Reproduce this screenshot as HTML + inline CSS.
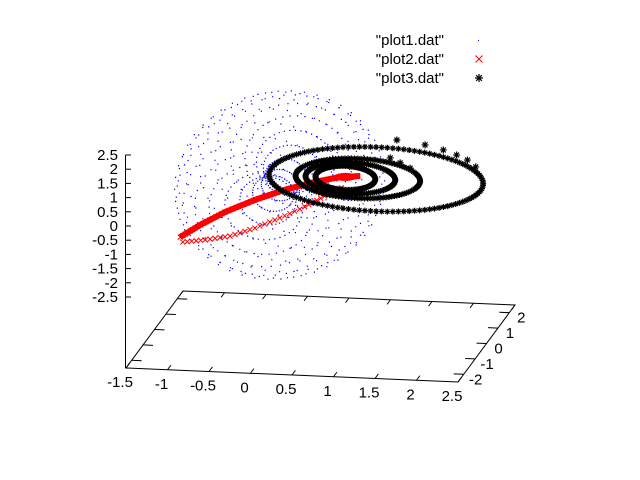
<!DOCTYPE html>
<html><head><meta charset="utf-8"><style>
html,body{margin:0;padding:0;background:#fff;}
svg{display:block;font-family:"Liberation Sans",sans-serif;}
</style></head><body>
<svg id="c" width="640" height="480" viewBox="0 0 640 480">
<g id="axes"></g>
<g id="blue"></g>
<g id="red"></g>
<g id="black"></g>
<g id="legend"></g>
</svg>
<script>
// ---- data ----
const zTicks=[-2.5,-2,-1.5,-1,-0.5,0,0.5,1,1.5,2,2.5];
const xTicks=[-1.5,-1,-0.5,0,0.5,1,1.5,2,2.5];
const yTicks=[-2,-1,0,1,2];
const legendLabels=['"plot1.dat"','"plot2.dat"','"plot3.dat"'];
// plot1 torus parameters: major radius, minor radius, vertical stretch, z centre
const torusR=[0.72], torusr=[0.5], torusKz=[2.5], torusZ0=[0.3];
// plot2 branches
const redUpperX=[-1.19,-0.95,-0.65,-0.29,0.07,0.43,0.73,0.98];
const redUpperZ=[-1.70,-1.24,-0.75,-0.28,0.12,0.44,0.65,0.72];
const redLowerX=[-1.16,-0.89,-0.59,-0.29,0.01,0.31,0.55,0.80];
const redLowerZ=[-1.87,-1.76,-1.59,-1.27,-0.88,-0.45,-0.04,0.35];
// plot3 spiral rings: centre x, centre z, radius x, radius z
const ringCX=[1.17,0.95,0.86,0.80];
const ringCZ=[0.63,0.63,0.63,0.63];
const ringRX=[1.29,0.75,0.54,0.36];
const ringRZ=[1.13,0.70,0.55,0.42];
const starX=[1.42,1.76,1.98,2.14,2.27,2.37,1.34,1.46,1.58];
const starZ=[2.04,1.91,1.76,1.60,1.44,1.21,1.40,1.24,1.07];
// ---- projection ----
const NS='http://www.w3.org/2000/svg';
function sx(x,y,z){return 279+83*x+11.4*y;}
function sy(x,y,z){return 193+3.5*x-15.4*y-28.4*z;}
function B(x,y){return [126+(x+1.5)*83+(y+2.5)*11.4, 368+(x+1.5)*3.5-(y+2.5)*15.4];}
function mk(tag,attrs,parent){const e=document.createElementNS(NS,tag);for(const k in attrs)e.setAttribute(k,attrs[k]);parent.appendChild(e);return e;}
const axes=document.getElementById('axes');
const c1=B(-1.5,-2.5),c2=B(2.5,-2.5),c3=B(2.5,2.5),c4=B(-1.5,2.5);
const base=mk('polygon',{points:[c1,c2,c3,c4].map(p=>p.join(',')).join(' '),fill:'none',stroke:'#000','stroke-width':1},axes);


const zl=mk('line',{x1:125.5,y1:155,x2:125.5,y2:368,stroke:'#000'},axes);


zTicks.forEach(v=>{
 const y=226-v*28.4;
 mk('line',{x1:125.5,y1:y,x2:131,y2:y,stroke:'#000'},axes);
 const t=mk('text',{x:118,y:y+5,'text-anchor':'end','font-size':15},axes);t.textContent=v;
 
 
});
xTicks.forEach(v=>{
 const a=B(v,-2.5),b=B(v,-2.2),c=B(v,2.5),d=B(v,2.2);
 mk('line',{x1:a[0],y1:a[1],x2:b[0],y2:b[1],stroke:'#000'},axes);
 mk('line',{x1:c[0],y1:c[1],x2:d[0],y2:d[1],stroke:'#000'},axes);
 const t=mk('text',{x:a[0]-6,y:a[1]+19,'text-anchor':'middle','font-size':15},axes);t.textContent=v;
 
 
});
yTicks.forEach(v=>{
 const a=B(2.5,v),b=B(2.38,v),c=B(-1.5,v),d=B(-1.38,v);
 mk('line',{x1:a[0],y1:a[1],x2:b[0],y2:b[1],stroke:'#000'},axes);
 mk('line',{x1:c[0],y1:c[1],x2:d[0],y2:d[1],stroke:'#000'},axes);
 const t=mk('text',{x:a[0]+12,y:a[1]+10,'text-anchor':'middle','font-size':15},axes);t.textContent=v;
 
 
});
// plot1 torus
const blue=document.getElementById('blue');
let bd='';
for(let i=0;i<44;i++){const u=i/44*2*Math.PI;
 for(let j=0;j<18;j++){const v=j/18*2*Math.PI;
  const rr=torusR[0]+torusr[0]*Math.cos(v);
  const x=rr*Math.cos(u), y=torusr[0]*Math.sin(v)*3.2, z=torusZ0[0]+torusKz[0]*rr*Math.sin(u);
  bd+=`M${sx(x,y,z).toFixed(1)} ${sy(x,y,z).toFixed(1)}h1.2v1.2h-1.2z`;
 }}
const bp=mk('path',{d:bd,fill:'#0000ff'},blue);


// plot2
const red=document.getElementById('red');
function xm(x,y,s){return `M${x-s} ${y-s}L${x+s} ${y+s}M${x-s} ${y+s}L${x+s} ${y-s}`;}
function branch(X,Z,steps,thick){
 let d='';
 for(let i=0;i<X.length-1;i++)for(let k=0;k<steps;k++){const t=k/steps;
  const x=X[i]+(X[i+1]-X[i])*t,z=Z[i]+(Z[i+1]-Z[i])*t;
  d+=xm(sx(x,0,z),sy(x,0,z),2.5);}
 const e=mk('path',{d:d,stroke:'#ff0000','stroke-width':1,fill:'none'},red);
 if(thick){const pts=X.map((x,i)=>sx(x,0,Z[i]).toFixed(1)+','+sy(x,0,Z[i]).toFixed(1)).join(' ');
  mk('polyline',{points:pts,stroke:'#ff0000','stroke-width':6,fill:'none','stroke-linejoin':'round'},red);}
 return e;}
const ru=branch(redUpperX,redUpperZ,8,true);


const rl=branch(redLowerX,redLowerZ,5,false);


// plot3
const black=document.getElementById('black');
function star(x,y,s){return `M${x-s} ${y}L${x+s} ${y}M${x} ${y-s}L${x} ${y+s}M${x-s*0.7} ${y-s*0.7}L${x+s*0.7} ${y+s*0.7}M${x-s*0.7} ${y+s*0.7}L${x+s*0.7} ${y-s*0.7}`;}
let kd='';
ringCX.forEach((cx,i)=>{
 for(let a=0;a<120;a++){const t=a/120*2*Math.PI;
  const x=cx+ringRX[i]*Math.cos(t),z=ringCZ[i]+ringRZ[i]*Math.sin(t);
  kd+=star(sx(x,0,z),sy(x,0,z),3);}
});
starX.forEach((x,i)=>{kd+=star(sx(x,0,starZ[i]),sy(x,0,starZ[i]),3.5);});
const kp=mk('path',{d:kd,stroke:'#000','stroke-width':1.2,fill:'none'},black);


const rb=mk('ellipse',{cx:sx(0.8,0,0.63),cy:sy(0.8,0,0.63)-1,rx:12,ry:4,fill:'#ff0000'},red);


// legend
const lg=document.getElementById('legend');
legendLabels.forEach((s,i)=>{
 const y=45+i*19;
 const t=mk('text',{x:444,y:y,'text-anchor':'end','font-size':15},lg);t.textContent=s;
 
 
});
mk('rect',{x:478,y:40,width:1,height:1,fill:'#0000ff'},lg);
mk('path',{d:xm(479,59,3.5),stroke:'#ff0000',fill:'none'},lg);
mk('path',{d:star(479,78,4),stroke:'#000',fill:'none','stroke-width':1.2},lg);
</script>
</body></html>
